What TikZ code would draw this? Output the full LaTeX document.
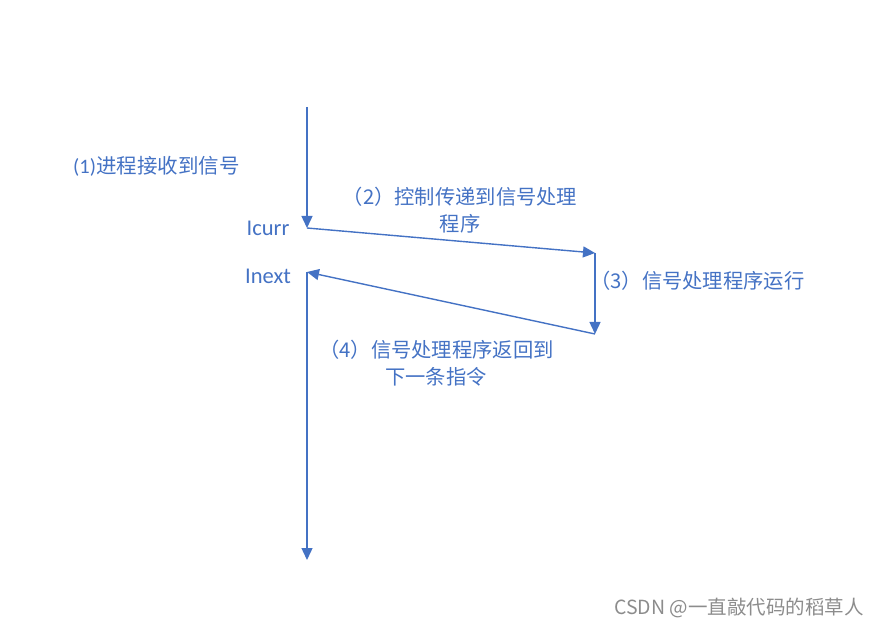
\documentclass[tikz,border=0pt]{standalone}
\usepackage{fontspec}
\setmainfont{Carlito}
\newfontfamily\cjk{Noto Sans CJK SC}
\usetikzlibrary{arrows.meta}
\definecolor{ablue}{HTML}{4472C4}
\tikzset{
  flow/.style={draw=ablue, line width=1.4pt, -{Triangle[length=12pt,width=11pt]}},
  lbl/.style={text=ablue, font=\fontsize{22.5}{26}\selectfont, inner sep=0pt},
  clbl/.style={text=ablue, font=\fontsize{20.3}{24}\selectfont\cjk, inner sep=0pt},
  wm/.style={text=black!45, font=\fontsize{19.5}{22}\selectfont\cjk, inner sep=0pt}
}
\begin{document}
\begin{tikzpicture}[x=1pt,y=-1pt]
\useasboundingbox (0,0) rectangle (881,628);
\coordinate (top) at (307,107);
\coordinate (icurr) at (307,228);
\coordinate (hs) at (595,253);
\coordinate (he) at (595,334);
\coordinate (inext) at (307,272);
\coordinate (bot) at (307,560);
\draw[flow] (top) -- (icurr);
\draw[flow] (icurr) -- (hs);
\draw[flow] (hs) -- (he);
\draw[flow] (he) -- (inext);
\draw[flow] (inext) -- (bot);
\node[lbl, anchor=west, font=\fontsize{20.5}{24}\selectfont] (t1) at (73,166) {(1){\cjk 进程接收到信号}};
\node[lbl] (ticurr) at (268,228) {Icurr};
\node[lbl] (tinext) at (268,276) {Inext};
\node[clbl] (t2a) at (460,197) {（2）控制传递到信号处理};
\node[clbl] (t2b) at (460,224) {程序};
\node[clbl, anchor=west] (t3) at (590,281) {（3）信号处理程序运行};
\node[clbl, anchor=west] (t4a) at (319,350) {（4）信号处理程序返回到};
\node[clbl] (t4b) at (436,377) {下一条指令};
\node[wm, anchor=west] (w) at (614,608) {CSDN @一直敲代码的稻草人};
\end{tikzpicture}
\end{document}
